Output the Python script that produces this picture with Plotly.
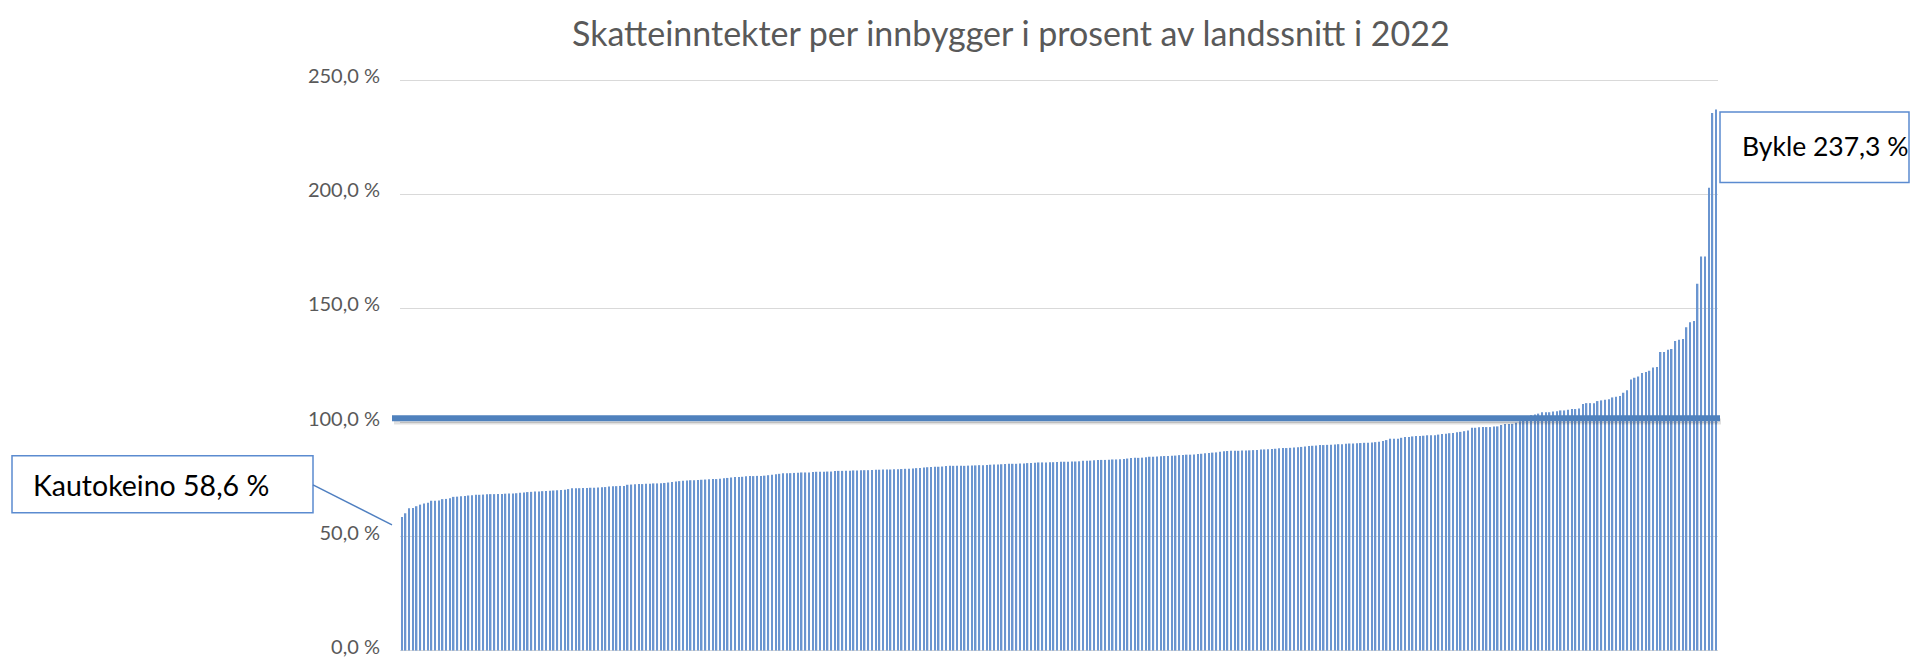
import plotly.graph_objects as go

# Municipalities sorted ascending (356 kommuner), values in % of national average
verdier = [
    58.6, 60.2, 62.4, 62.5, 63.3, 64.0, 64.5, 64.8, 65.7, 65.7,
    65.8, 66.4, 66.5, 66.8, 67.4, 67.5, 67.7, 67.8, 68.0, 68.1,
    68.3, 68.3, 68.4, 68.5, 68.6, 68.6, 68.7, 68.7, 68.8, 68.9,
    68.9, 69.0, 69.2, 69.3, 69.5, 69.6, 69.7, 69.8, 69.9, 70.0,
    70.1, 70.2, 70.3, 70.4, 70.5, 70.8, 71.2, 71.2, 71.2, 71.3,
    71.3, 71.4, 71.4, 71.5, 71.6, 71.7, 71.9, 72.1, 72.1, 72.2,
    72.2, 72.7, 72.8, 72.9, 73.0, 73.0, 73.1, 73.2, 73.3, 73.3,
    73.4, 73.5, 73.7, 73.9, 74.1, 74.3, 74.5, 74.6, 74.7, 74.7,
    74.8, 74.9, 75.0, 75.1, 75.2, 75.2, 75.3, 75.6, 75.7, 75.9,
    76.1, 76.1, 76.2, 76.4, 76.5, 76.5, 76.6, 76.6, 76.7, 76.9,
    77.1, 77.3, 77.5, 77.7, 77.8, 77.8, 77.9, 78.0, 78.1, 78.1,
    78.1, 78.3, 78.4, 78.4, 78.4, 78.5, 78.5, 78.7, 78.8, 78.8,
    78.8, 78.9, 79.0, 79.0, 79.1, 79.1, 79.1, 79.2, 79.3, 79.3,
    79.4, 79.4, 79.4, 79.5, 79.5, 79.6, 79.7, 79.7, 79.8, 80.0,
    80.1, 80.3, 80.4, 80.5, 80.6, 80.6, 80.7, 80.9, 81.0, 81.0,
    81.0, 81.0, 81.0, 81.1, 81.2, 81.2, 81.3, 81.3, 81.4, 81.5,
    81.6, 81.6, 81.7, 81.8, 81.9, 81.9, 81.9, 82.0, 82.0, 82.2,
    82.3, 82.4, 82.5, 82.5, 82.5, 82.6, 82.6, 82.7, 82.8, 82.8,
    82.8, 82.9, 82.9, 83.0, 83.2, 83.2, 83.3, 83.5, 83.6, 83.6,
    83.6, 83.7, 83.8, 83.8, 83.9, 84.0, 84.2, 84.4, 84.5, 84.5,
    84.6, 84.8, 85.0, 85.0, 85.1, 85.2, 85.3, 85.3, 85.4, 85.5,
    85.7, 85.8, 85.9, 85.9, 86.0, 86.2, 86.3, 86.5, 86.6, 86.8,
    86.9, 87.2, 87.4, 87.5, 87.6, 87.6, 87.6, 87.7, 87.7, 87.8,
    87.9, 88.0, 88.2, 88.2, 88.3, 88.4, 88.5, 88.7, 88.8, 88.8,
    88.9, 89.0, 89.2, 89.3, 89.5, 89.7, 89.8, 89.9, 90.1, 90.1,
    90.2, 90.3, 90.4, 90.5, 90.5, 90.7, 90.8, 90.8, 90.9, 91.0,
    91.1, 91.1, 91.2, 91.4, 91.6, 91.9, 92.3, 92.9, 92.9, 92.9,
    93.3, 93.6, 93.7, 93.9, 94.1, 94.1, 94.2, 94.4, 94.4, 94.4,
    94.7, 95.0, 95.1, 95.3, 95.4, 95.7, 95.9, 96.2, 96.5, 97.7,
    97.7, 97.9, 98.0, 98.0, 98.0, 98.2, 98.3, 98.9, 99.3, 99.3,
    99.4, 99.9, 100.6, 101.3, 102.3, 103.2, 103.5, 103.9, 104.5, 104.5,
    104.5, 104.8, 104.9, 105.3, 105.3, 105.6, 105.9, 105.9, 106.2, 108.1,
    108.5, 108.5, 108.5, 109.4, 109.7, 110.0, 110.2, 111.0, 111.3, 111.6,
    113.0, 114.2, 118.9, 119.6, 120.2, 121.7, 122.2, 122.7, 124.1, 124.3,
    130.9, 130.9, 131.9, 132.2, 135.7, 136.3, 136.6, 141.8, 144.0, 144.5,
    160.8, 172.8, 172.8, 202.9, 235.7, 237.3,
]
kommuner = list(range(1, len(verdier) + 1))

landssnitt_linje = 101.9

tick_verdier = [0, 50, 100, 150, 200, 250]
tick_tekster = ["0,0 %", "50,0 %", "100,0 %", "150,0 %", "200,0 %", "250,0 %"]

tittel = "Skatteinntekter per innbygger i prosent av landssnitt i 2022"
etikett_lav = "Kautokeino 58,6 %"
etikett_hoy = "Bykle 237,3 %"

FONT = "Lato"
GREY = "#595959"
BLUE = "#4f81bd"
BOX = "#5b8bd0"

# pixel geometry of the plot area (used to convert to paper coords)
Y_MIN, Y_MAX = -1.5, 251.5
PX_PER_UNIT = 2.28
Y0_PX = 650.7
L, R = 400, 1718
T = Y0_PX - Y_MAX * PX_PER_UNIT
B = Y0_PX - Y_MIN * PX_PER_UNIT
PW, PH = R - L, B - T


def px(x):
    return (x - L) / PW


def py(y):
    return (B - y) / PH


fig = go.Figure()
fig.add_trace(go.Bar(
    x=kommuner, y=verdier,
    marker=dict(color="#6a95d0", line=dict(width=0)),
    width=0.4,
    showlegend=False,
    hoverinfo="y",
))

shapes = [
    # shadow of average line
    dict(type="line", xref="paper", yref="y", x0=px(394), x1=px(1721),
         y0=landssnitt_linje - 1.5, y1=landssnitt_linje - 1.5,
         line=dict(color="rgba(0,0,0,0.12)", width=6)),
    dict(type="line", xref="paper", yref="y", x0=px(392), x1=px(1720),
         y0=landssnitt_linje, y1=landssnitt_linje,
         line=dict(color=BLUE, width=6)),
    # Kautokeino box + leader
    dict(type="rect", xref="paper", yref="paper", x0=px(12), x1=px(313),
         y0=py(513), y1=py(456), line=dict(color=BOX, width=1.5), fillcolor="white"),
    dict(type="line", xref="paper", yref="paper", x0=px(313), y0=py(485),
         x1=px(392), y1=py(525), line=dict(color="#4f7fc0", width=1.5)),
    # Bykle box
    dict(type="rect", xref="paper", yref="paper", x0=px(1720), x1=px(1909),
         y0=py(182.7), y1=py(112.3), line=dict(color=BOX, width=1.5), fillcolor="white"),
]

annotations = [
    dict(text=etikett_lav, xref="paper", yref="paper", x=px(31), y=py(485),
         xanchor="left", yanchor="middle", showarrow=False,
         font=dict(family=FONT, size=28.5, color="black")),
    dict(text=etikett_hoy, xref="paper", yref="paper", x=px(1740), y=py(146),
         xanchor="left", yanchor="middle", showarrow=False,
         font=dict(family=FONT, size=26.5, color="black")),
    dict(text=tittel, xref="paper", yref="paper", x=px(1011), y=py(33),
         xanchor="center", yanchor="middle", showarrow=False,
         font=dict(family=FONT, size=34, color=GREY)),
]

fig.update_layout(
    width=1911, height=659,
    autosize=False,
    margin=dict(l=L, r=1911 - R, t=T, b=659 - B, pad=0, autoexpand=False),
    paper_bgcolor="white", plot_bgcolor="white",
    bargap=0.5,
    shapes=shapes,
    annotations=annotations,
    xaxis=dict(type="category", showticklabels=False, showgrid=False,
               zeroline=False, showline=False, ticks="", automargin=False),
    yaxis=dict(range=[Y_MIN, Y_MAX], tickvals=tick_verdier, ticktext=tick_tekster,
               showgrid=True, gridcolor="#d9d9d9", gridwidth=1.3,
               zeroline=False, showline=False, ticks="", automargin=False,
               ticklabelstandoff=19, ticklabeloverflow="allow",
               ticklabelshift=-4,
               tickfont=dict(family=FONT, size=20, color=GREY)),
    font=dict(family=FONT),
)

fig.write_html(
    "out.html",
    config={"displayModeBar": False},
    post_script="document.body.style.margin='0';document.body.style.overflow='hidden';",
)
